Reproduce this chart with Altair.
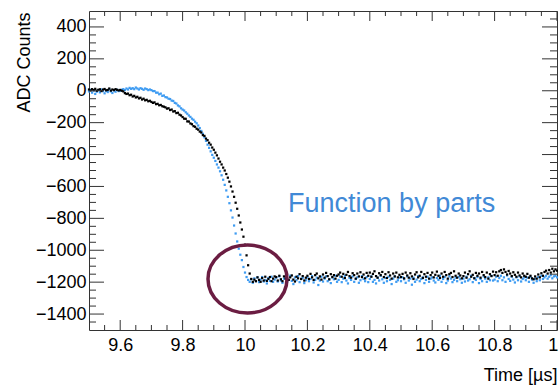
import altair as alt
import pandas as pd

# ---------------- data ----------------
T0 = 9.5      # first sample time [us]
DT = 0.005    # sampling step [us]

black_adc = [
    8, 2, 10, 4, 12, 0, 6, 9, -2, 7, 11, 3, 5, 14, 1, 8, 4, 10, 6, 2,
    5, 0, -4, -15, -20, -18, -28, -25, -36, -32, -42, -38, -48, -44, -55, -50, -60, -57, -66, -63,
    -70, -76, -73, -84, -82, -91, -89, -97, -100, -104, -112, -110, -121, -118, -130, -128, -140, -138, -150, -155,
    -165, -175, -176, -192, -193, -205, -210, -222, -226, -238, -244, -256, -262, -278, -283, -300, -310, -326, -338, -356,
    -370, -388, -405, -425, -445, -462, -482, -500, -522, -545, -570, -600, -632, -665, -702, -740, -782, -826, -870, -915,
    -965, -1032, -1094, -1146, -1180, -1198, -1184, -1194, -1170, -1186, -1198, -1174, -1190, -1166, -1192, -1180, -1168, -1194, -1178, -1164,
    -1168, -1190, -1160, -1182, -1194, -1164, -1178, -1152, -1186, -1170, -1158, -1184, -1196, -1166, -1176, -1150, -1180, -1162, -1190, -1172,
    -1160, -1180, -1148, -1170, -1186, -1156, -1146, -1176, -1164, -1184, -1152, -1172, -1142, -1162, -1182, -1150, -1168, -1156, -1178, -1160,
    -1152, -1140, -1166, -1148, -1174, -1154, -1136, -1162, -1172, -1144, -1156, -1178, -1146, -1164, -1138, -1168, -1152, -1176, -1142, -1160,
    -1140, -1166, -1148, -1132, -1162, -1172, -1144, -1156, -1136, -1168, -1150, -1174, -1138, -1158, -1178, -1146, -1164, -1140, -1170, -1154,
    -1168, -1148, -1176, -1140, -1158, -1172, -1144, -1164, -1180, -1152, -1138, -1170, -1160, -1136, -1174, -1150, -1166, -1142, -1178, -1156,
    -1140, -1170, -1154, -1134, -1160, -1174, -1146, -1166, -1136, -1156, -1178, -1150, -1142, -1168, -1132, -1160, -1172, -1146, -1158, -1176,
    -1162, -1140, -1172, -1150, -1132, -1166, -1154, -1176, -1142, -1160, -1146, -1172, -1136, -1156, -1168, -1140, -1178, -1150, -1162, -1134,
    -1156, -1138, -1160, -1132, -1124, -1142, -1120, -1136, -1152, -1130, -1146, -1162, -1138, -1154, -1166, -1140, -1158, -1170, -1146, -1160,
    -1166, -1148, -1172, -1160, -1176, -1182, -1164, -1178, -1152, -1170, -1144, -1160, -1136, -1128, -1146, -1124, -1140, -1116, -1132, -1120,
    -1128,
]

blue_adc = [
    -4, 6, -12, 2, -20, -6, 4, -10, 8, -2, -16, 0, -8, 10, -4, -14, 2, -6, 6, -2,
    0, 6, 10, 4, 14, 8, 18, 12, 16, 10, 20, 14, 8, 16, 12, 6, 14, 10, 4, 8,
    4, -2, -2, -12, -12, -22, -18, -32, -30, -40, -42, -50, -52, -62, -64, -76, -80, -92, -98, -110,
    -118, -124, -135, -144, -155, -164, -175, -182, -194, -204, -218, -234, -252, -270, -292, -314, -338, -358, -380, -402,
    -420, -440, -462, -482, -505, -530, -558, -590, -625, -665, -705, -750, -795, -845, -895, -945, -990, -1028, -1062, -1105,
    -1140, -1168, -1186, -1198, -1182, -1204, -1176, -1194, -1170, -1200, -1184, -1168, -1196, -1186, -1208, -1174, -1192, -1166, -1198, -1184,
    -1172, -1196, -1164, -1190, -1204, -1178, -1166, -1198, -1186, -1160, -1192, -1212, -1170, -1188, -1162, -1200, -1180, -1172, -1206, -1188,
    -1170, -1194, -1180, -1162, -1202, -1186, -1172, -1218, -1190, -1166, -1196, -1178, -1164, -1194, -1184, -1206, -1170, -1182, -1160, -1198,
    -1186, -1166, -1200, -1178, -1160, -1190, -1208, -1174, -1186, -1164, -1198, -1180, -1170, -1204, -1188, -1162, -1180, -1194, -1168, -1200,
    -1180, -1164, -1198, -1186, -1208, -1172, -1190, -1160, -1182, -1204, -1174, -1194, -1166, -1186, -1212, -1178, -1164, -1198, -1188, -1172,
    -1194, -1170, -1182, -1204, -1164, -1190, -1178, -1216, -1172, -1198, -1184, -1162, -1194, -1180, -1170, -1206, -1186, -1166, -1198, -1178,
    -1170, -1190, -1202, -1174, -1186, -1160, -1198, -1180, -1168, -1206, -1190, -1164, -1178, -1200, -1186, -1172, -1194, -1166, -1182, -1204,
    -1178, -1196, -1166, -1190, -1182, -1160, -1200, -1174, -1186, -1168, -1206, -1180, -1194, -1164, -1178, -1198, -1170, -1188, -1160, -1190,
    -1184, -1166, -1194, -1174, -1160, -1188, -1170, -1198, -1158, -1180, -1192, -1166, -1184, -1202, -1170, -1188, -1164, -1196, -1180, -1170,
    -1188, -1172, -1198, -1166, -1184, -1204, -1178, -1194, -1168, -1188, -1160, -1180, -1170, -1160, -1178, -1166, -1156, -1176, -1164, -1160,
    -1170,
]

x_major = [9.6, 9.8, 10.0, 10.2, 10.4, 10.6, 10.8, 11.0]
x_minor = [9.55, 9.65, 9.7, 9.75, 9.85, 9.9, 9.95, 10.05, 10.1, 10.15, 10.25, 10.3, 10.35,
           10.45, 10.5, 10.55, 10.65, 10.7, 10.75, 10.85, 10.9, 10.95]
y_major = [-1400, -1200, -1000, -800, -600, -400, -200, 0, 200, 400]
y_minor = [-1450, -1350, -1300, -1250, -1150, -1100, -1050, -950, -900, -850, -750, -700,
           -650, -550, -500, -450, -350, -300, -250, -150, -100, -50, 50, 100, 150, 250, 300, 350, 450]

note_text = ["Function by parts"]
note_t = [10.138]
note_v = [-760]
ring_t = [10.008]
ring_v = [-1180]

# ---------------- build ----------------
W, H = 468, 319
times = [round(T0 + DT * i, 3) for i in range(len(black_adc))]
df = pd.DataFrame({
    "t": times + times,
    "v": blue_adc + black_adc,
    "s": ["fit"] * len(blue_adc) + ["data"] * len(black_adc),
})

FONT = "Liberation Sans"
xscale = alt.Scale(domain=[9.5, 11.0], nice=False, zero=False)
yscale = alt.Scale(domain=[-1500, 500], nice=False, zero=False)

xaxis = alt.Axis(
    values=x_major, format="~g", ticks=False, tickSize=0, domain=False, grid=False,
    labelFlush=False, labelOverlap=False, labelBound=False,
    labelFont=FONT, labelFontSize=18, labelColor="#000", labelPadding=6,
    title="Time [µs]", titleFont=FONT, titleFontSize=18, titleFontWeight="normal",
    titleColor="#000", titleX=W, titleY=50, titleAlign="right", titleAnchor="end",
    titleBaseline="alphabetic")
yaxis = alt.Axis(
    values=y_major, format="d", ticks=False, tickSize=0, domain=False, grid=False,
    labelFlush=False, labelOverlap=False, labelBound=False,
    labelFont=FONT, labelFontSize=18, labelColor="#000", labelPadding=3,
    title="ADC Counts", titleFont=FONT, titleFontSize=18, titleFontWeight="normal",
    titleColor="#000", titleAngle=-90, titleX=-65, titleY=1, titleAlign="right",
    titleAnchor="end", titleBaseline="middle")

X = lambda: alt.X("t:Q", scale=xscale, axis=xaxis, title="Time [µs]")
Y = lambda: alt.Y("v:Q", scale=yscale, axis=yaxis, title="ADC Counts")

points = alt.Chart(df).mark_square(size=5, opacity=1).encode(
    x=X(), y=Y(),
    color=alt.Color("s:N", scale=alt.Scale(domain=["fit", "data"], range=["#3f9cf2", "#000000"]),
                    legend=None),
)

tick_col = "#333333"
xmaj_df = pd.DataFrame({"t": x_major})
xmin_df = pd.DataFrame({"t": x_minor})
ymaj_df = pd.DataFrame({"v": y_major})
ymin_df = pd.DataFrame({"v": y_minor})

def xticks(d, L):
    b = alt.Chart(d).mark_rule(color=tick_col, strokeWidth=1).encode(
        x=X(), y=alt.value(H), y2=alt.value(H - L))
    t = alt.Chart(d).mark_rule(color=tick_col, strokeWidth=1).encode(
        x=X(), y=alt.value(0), y2=alt.value(L))
    return b + t

def yticks(d, L):
    l = alt.Chart(d).mark_rule(color=tick_col, strokeWidth=1).encode(
        y=Y(), x=alt.value(0), x2=alt.value(L))
    r = alt.Chart(d).mark_rule(color=tick_col, strokeWidth=1).encode(
        y=Y(), x=alt.value(W), x2=alt.value(W - L))
    return l + r

ell = ("M -1 0 C -1 -0.475 -0.552 -0.86 0 -0.86 C 0.552 -0.86 1 -0.475 1 0 "
       "C 1 0.475 0.552 0.86 0 0.86 C -0.552 0.86 -1 0.475 -1 0 Z")
ring = alt.Chart(pd.DataFrame({"t": ring_t, "v": ring_v})).mark_point(
    shape=ell, size=6241, filled=False, stroke="#6b1d42", strokeWidth=3.5, opacity=1
).encode(x=X(), y=Y())

note = alt.Chart(pd.DataFrame({"t": note_t, "v": note_v, "txt": note_text})).mark_text(
    align="left", baseline="alphabetic", font=FONT, fontSize=27, color="#4189d6"
).encode(x=X(), y=Y(), text="txt:N")

chart = alt.layer(
    points,
    xticks(xmaj_df, 10), xticks(xmin_df, 5),
    yticks(ymaj_df, 15), yticks(ymin_df, 7),
    ring, note,
).properties(
    width=W, height=H,
    padding={"left": 89, "top": 11, "right": 1, "bottom": 57},
    autosize=alt.AutoSizeParams(type="none"),
    background="white",
).configure_view(stroke="#333333", strokeWidth=1)

chart.save("out.html", embed_options={"renderer": "svg", "actions": False})
